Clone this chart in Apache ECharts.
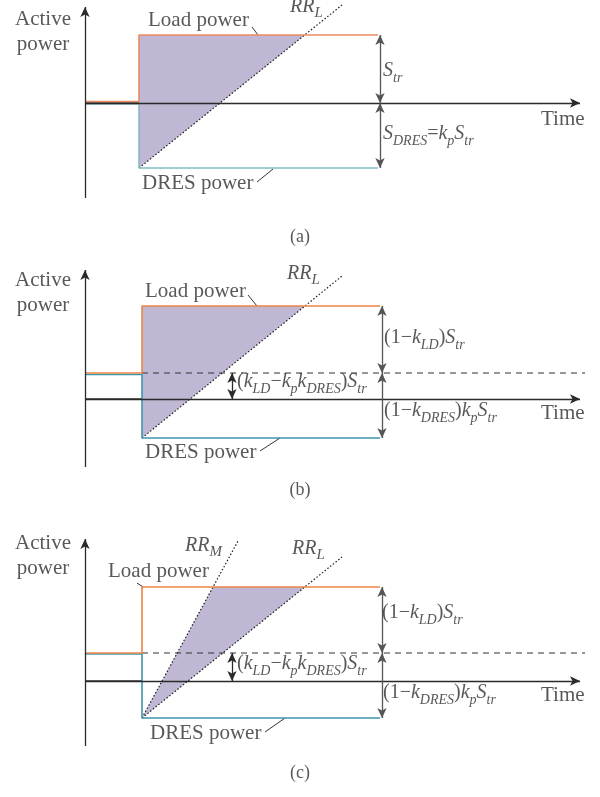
<!DOCTYPE html>
<html>
<head>
<meta charset="utf-8">
<script src="https://cdn.jsdelivr.net/npm/echarts@6/dist/echarts.min.js"></script>
<style>
  html, body { margin: 0; padding: 0; background: #ffffff; }
  #chart { width: 600px; height: 797px; }
</style>
</head>
<body>
<div id="chart"></div>
<script>
// x = time measured from the power axis, y = power measured from the time axis
const tStep = [54, 57, 57];
const tEnd = [293, 295, 295];
const tAxisEnd = 495;
const tDashEnd = 500;
const loadPre = [1.5, 26, 28];
const loadPost = [68, 93, 94];
const dresPre = [-1, 24.5, 27];
const dresPost = [-65, -39, -37];
const dashLevel = [null, 26, 28];
const powerAxisLow = [-95, -68, -65];
const powerAxisHigh = [96, 129, 142];

// ramp-rate lines: start at the DRES step, hit load power, run on to the end point
const rrLHit = [220, 220, 220];
const rrLEnd = [[257, 98], [257, 123], [257, 124]];
const rrMHit = [null, null, 128];
const rrMEnd = [null, null, [153, 140]];

// difference arrows
const gapArrowT = [295, 297, 297];
const kldArrowT = [null, 147, 147];

const labelsA = [
  [-42, 71, "Active\npower", "center"],
  [63, 83, "Load power", "left"],
  [205, 93, "{i|RR}{L|L}", "left"],
  [298, 29, "{i|S}{s|tr}", "left"],
  [298, -34, "{i|S}{s|DRES}{n|=}{i|k}{s|p}{i|S}{s|tr}", "left"],
  [456, -16, "Time", "left"],
  [57, -80, "DRES power", "left"],
  [215, -134, "(a)", "center"],
];
const labelsB = [
  [-42, 106, "Active\npower", "center"],
  [60, 108, "Load power", "left"],
  [202, 122, "{i|RR}{L|L}", "left"],
  [299, 58, "{n|(1−}{i|k}{s|LD}{n|)}{i|S}{s|tr}", "left"],
  [152, 14, "{n|(}{i|k}{s|LD}{n|−}{i|k}{s|p}{i|k}{s|DRES}{n|)}{i|S}{s|tr}", "left"],
  [299, -15, "{n|(1−}{i|k}{s|DRES}{n|)}{i|k}{s|p}{i|S}{s|tr}", "left"],
  [456, -14, "Time", "left"],
  [60, -53, "DRES power", "left"],
  [215, -91, "(b)", "center"],
];
const labelsC = [
  [-42, 125, "Active\npower", "center"],
  [23, 110, "Load power", "left"],
  [100, 132, "{i|RR}{L|M}", "left"],
  [207, 129, "{i|RR}{L|L}", "left"],
  [297, 65, "{n|(1−}{i|k}{s|LD}{n|)}{i|S}{s|tr}", "left"],
  [152, 14, "{n|(}{i|k}{s|LD}{n|−}{i|k}{s|p}{i|k}{s|DRES}{n|)}{i|S}{s|tr}", "left"],
  [298, -15, "{n|(1−}{i|k}{s|DRES}{n|)}{i|k}{s|p}{i|S}{s|tr}", "left"],
  [456, -14, "Time", "left"],
  [65, -52, "DRES power", "left"],
  [215, -92, "(c)", "center"],
];
const panelLabels = [labelsA, labelsB, labelsC];

const leadersLoad = [[[167, 76], [173, 68]], [[163, 104], [172, 93]], [[52, 98], [58, 94]]];
const leadersDres = [[[172, -79], [188, -66]], [[175, -52], [195, -39]], [[180, -51], [200, -37]]];

// layout of the three stacked panels
const gridTop = [0, 263, 530];
const axisZeroPx = [103, 136, 151];
const gridHeight = 250;

const serif = "Liberation Serif";
const ink = "#2e2e2e";
const orange = ["#EA8D5E", "#EE8547", "#EE8547"];
const teal = ["#86BAC5", "#3F97AD", "#3F97AD"];
const shade = "#BFB7D3";

const rich = {
  n: { fontFamily: serif, fontSize: 20, color: ink, lineHeight: 22, padding: [0, 0, 6, 0] },
  i: { fontFamily: serif, fontSize: 20, fontStyle: "italic", color: ink, lineHeight: 22, padding: [0, 0, 6, 0] },
  s: { fontFamily: serif, fontSize: 14, fontStyle: "italic", color: ink, lineHeight: 15, verticalAlign: "bottom" },
  L: { fontFamily: serif, fontSize: 15, fontStyle: "italic", color: ink, lineHeight: 16, verticalAlign: "bottom" },
};

const grids = [];
const xAxes = [];
const yAxes = [];
const series = [];

const plain = (p, data, color, width, type) => ({
  type: "line",
  xAxisIndex: p,
  yAxisIndex: p,
  data: data,
  symbol: "none",
  silent: true,
  clip: false,
  lineStyle: { color: color, width: width, type: type || "solid" },
  z: 3,
});

for (let p = 0; p < 3; p++) {
  grids.push({ left: 0, width: 600, top: gridTop[p], height: gridHeight });
  xAxes.push({ type: "value", gridIndex: p, min: -85, max: 515, show: false });
  yAxes.push({
    type: "value",
    gridIndex: p,
    max: axisZeroPx[p],
    min: axisZeroPx[p] - gridHeight,
    show: false,
  });

  // shaded energy area between the ramp limits and load power
  const shadePts = [
    [tStep[p], dresPost[p]],
    [rrMHit[p] === null ? tStep[p] : rrMHit[p], loadPost[p]],
    [rrLHit[p], loadPost[p]],
  ];
  series.push({
    type: "custom",
    xAxisIndex: p,
    yAxisIndex: p,
    silent: true,
    clip: false,
    data: [[0, 0]],
    z: 1,
    renderItem: (params, api) => ({
      type: "polygon",
      shape: { points: shadePts.map((pt) => api.coord(pt)) },
      style: { fill: shade },
    }),
  });

  series.push(plain(p, [[tStep[p], dresPost[p]], rrLEnd[p]], "#1e1e1e", 1.2, [1.5, 2]));
  if (rrMEnd[p]) {
    series.push(plain(p, [[tStep[p], dresPost[p]], rrMEnd[p]], "#1e1e1e", 1.2, [1.5, 2]));
  }
  if (dashLevel[p] !== null) {
    series.push(plain(p, [[tStep[p], dashLevel[p]], [tDashEnd, dashLevel[p]]], "#333", 1.1, [6, 5]));
  }

  const arrows = [
    [{ coord: [0, powerAxisLow[p]], symbol: "none" }, { coord: [0, powerAxisHigh[p]], symbol: "arrow" }],
    [{ coord: [0, 0], symbol: "none" }, { coord: [tAxisEnd, 0], symbol: "arrow" }],
    [
      { coord: [gapArrowT[p], loadPost[p]], symbol: "arrow", lineStyle: { color: "#555" } },
      { coord: [gapArrowT[p], dashLevel[p] === null ? 0 : dashLevel[p]], symbol: "arrow" },
    ],
    [
      { coord: [gapArrowT[p], dashLevel[p] === null ? 0 : dashLevel[p]], symbol: "arrow", lineStyle: { color: "#555" } },
      { coord: [gapArrowT[p], dresPost[p]], symbol: "arrow" },
    ],
  ];
  if (kldArrowT[p] !== null) {
    arrows.push([
      { coord: [kldArrowT[p], dashLevel[p]], symbol: "arrow" },
      { coord: [kldArrowT[p], 0], symbol: "arrow" },
    ]);
  }

  series.push(plain(p, [[0, 0], [tStep[p], 0]], "#333", 1.3));
  series.push(
    Object.assign(
      plain(p, [[0, dresPre[p]], [tStep[p], dresPre[p]], [tStep[p], dresPost[p]], [tEnd[p], dresPost[p]]], teal[p], 1.6),
      { z: 4 }
    )
  );
  series.push(
    Object.assign(
      plain(p, [[0, loadPre[p]], [tStep[p], loadPre[p]], [tStep[p], loadPost[p]], [tEnd[p], loadPost[p]]], orange[p], 1.6),
      {
        z: 4,
        markLine: {
          silent: true,
          animation: false,
          symbolSize: [7, 10],
          label: { show: false },
          lineStyle: { color: "#2a2a2a", width: 1.3, type: "solid" },
          data: arrows,
        },
      }
    )
  );

  series.push(plain(p, leadersLoad[p], "#333", 1));
  series.push(plain(p, leadersDres[p], "#333", 1));

  series.push({
    type: "scatter",
    xAxisIndex: p,
    yAxisIndex: p,
    silent: true,
    clip: false,
    symbolSize: 0,
    z: 6,
    data: panelLabels[p].map((l) => ({
      value: [l[0], l[1]],
      label: {
        show: true,
        position: "inside",
        align: l[3],
        verticalAlign: "middle",
        formatter: l[2],
        fontFamily: serif,
        fontSize: l[2].charAt(0) === "(" && l[2].length === 3 ? 18 : 21,
        lineHeight: 25,
        color: ink,
        rich: rich,
      },
    })),
  });
}

const chart = echarts.init(document.getElementById("chart"), null, { renderer: "canvas" });
chart.setOption({
  animation: false,
  backgroundColor: "#ffffff",
  grid: grids,
  xAxis: xAxes,
  yAxis: yAxes,
  series: series,
});
</script>
</body>
</html>
